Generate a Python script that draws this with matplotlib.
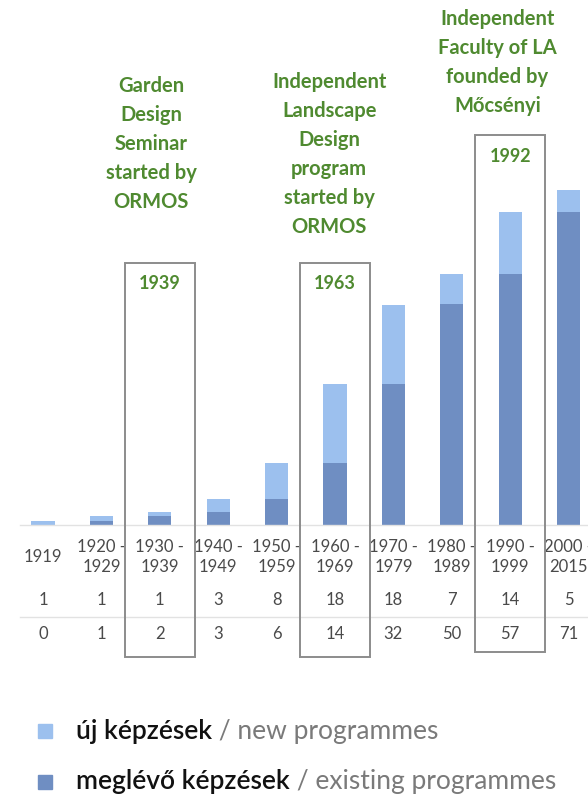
import matplotlib.pyplot as plt
from matplotlib.patches import Rectangle
from matplotlib.transforms import blended_transform_factory

# data
periods = ["1919", "1920 -\n1929", "1930 -\n1939", "1940 -\n1949", "1950 -\n1959",
           "1960 -\n1969", "1970 -\n1979", "1980 -\n1989", "1990 -\n1999", "2000 -\n2015"]
new_prog = [1, 1, 1, 3, 8, 18, 18, 7, 14, 5]
existing_prog = [0, 1, 2, 3, 6, 14, 32, 50, 57, 71]

events = ["1939", "1963", "1992"]
event_idx = [2, 5, 8]
event_text = ["Garden\nDesign\nSeminar\nstarted by\nORMOS",
              "Independent\nLandscape\nDesign\nprogram\nstarted by\nORMOS",
              "Independent\nFaculty of LA\nfounded by\nMőcsényi"]

light = "#9cc0ee"
dark = "#6f8ec2"
green = "#4f8a30"
grey_txt = "#4a4a4a"

W, H = 588, 802
fig = plt.figure(figsize=(W / 100, H / 100), dpi=100)

def fy(py):
    # pixel row (from top) -> figure fraction
    return 1 - py / H

base_px = 525
ax = fig.add_axes([0, fy(base_px), 1, base_px / H])
px_per_unit = 4.41
x0, dx = 43, 58.4
ax.set_xlim(-x0 / dx, (W - x0) / dx)
ax.set_ylim(0, base_px / px_per_unit)
ax.axis("off")

xs = list(range(len(periods)))
ax.bar(xs, existing_prog, width=0.4, color=dark, zorder=2)
ax.bar(xs, new_prog, width=0.4, bottom=existing_prog, color=light, zorder=2)

tr = blended_transform_factory(ax.transData, fig.transFigure)

# base line and table separator
for py in (base_px, 617):
    fig.add_artist(plt.Line2D([(20 - x0) / dx, 12], [fy(py), fy(py)], transform=tr,
                              color="#e2e2e2", lw=1.0))

tfont = dict(family="Lato", fontsize=12, color=grey_txt, ha="center", va="center")
for i in xs:
    ax.text(i, fy(557), periods[i], transform=tr, linespacing=1.25, **tfont)
    ax.text(i, fy(600), str(new_prog[i]), transform=tr, **tfont)
    ax.text(i, fy(634), str(existing_prog[i]), transform=tr, **tfont)

# boxes around the milestone decades
box_top = [263, 263, 135]
box_bot = [657, 657, 652]
for k, i in enumerate(event_idx):
    hw = 0.6
    r = Rectangle((i - hw, fy(box_bot[k])), 2 * hw, fy(box_top[k]) - fy(box_bot[k]),
                  transform=tr, fill=False, ec="#8c8c8c", lw=1.4, clip_on=False, zorder=3)
    fig.add_artist(r)
    ax.text(i, fy(box_top[k] + 21), events[k], transform=tr, ha="center", va="center",
            family="Lato", fontsize=13, fontweight="bold", color=green)

ann_top = [76, 72, 9]
ann_x = [1.85, 4.9, 7.78]
for k in range(3):
    ax.text(ann_x[k], fy(ann_top[k]), event_text[k], transform=tr, ha="center", va="top",
            family="Lato", fontsize=14.5, fontweight="bold", color=green, linespacing=1.56)

# legend
leg_y = [731, 782]
leg_col = [light, dark]
leg_hu = ["új képzések", "meglévő képzések"]
leg_en = [" / new programmes", " / existing programmes"]
for k in range(2):
    fig.add_artist(Rectangle((38 / W, fy(leg_y[k] + 7)), 14 / W, 14 / H,
                             transform=fig.transFigure, color=leg_col[k]))
    t1 = fig.text(76 / W, fy(leg_y[k]), leg_hu[k], family="Lato", fontsize=19,
                  fontweight="semibold", color="#111111", va="center")
    ax.annotate(leg_en[k], xy=(1, 0), xycoords=t1, va="bottom", ha="left",
                family="Lato", fontsize=19, color="#7a7a7a")

fig.savefig("out.png", dpi=100)
